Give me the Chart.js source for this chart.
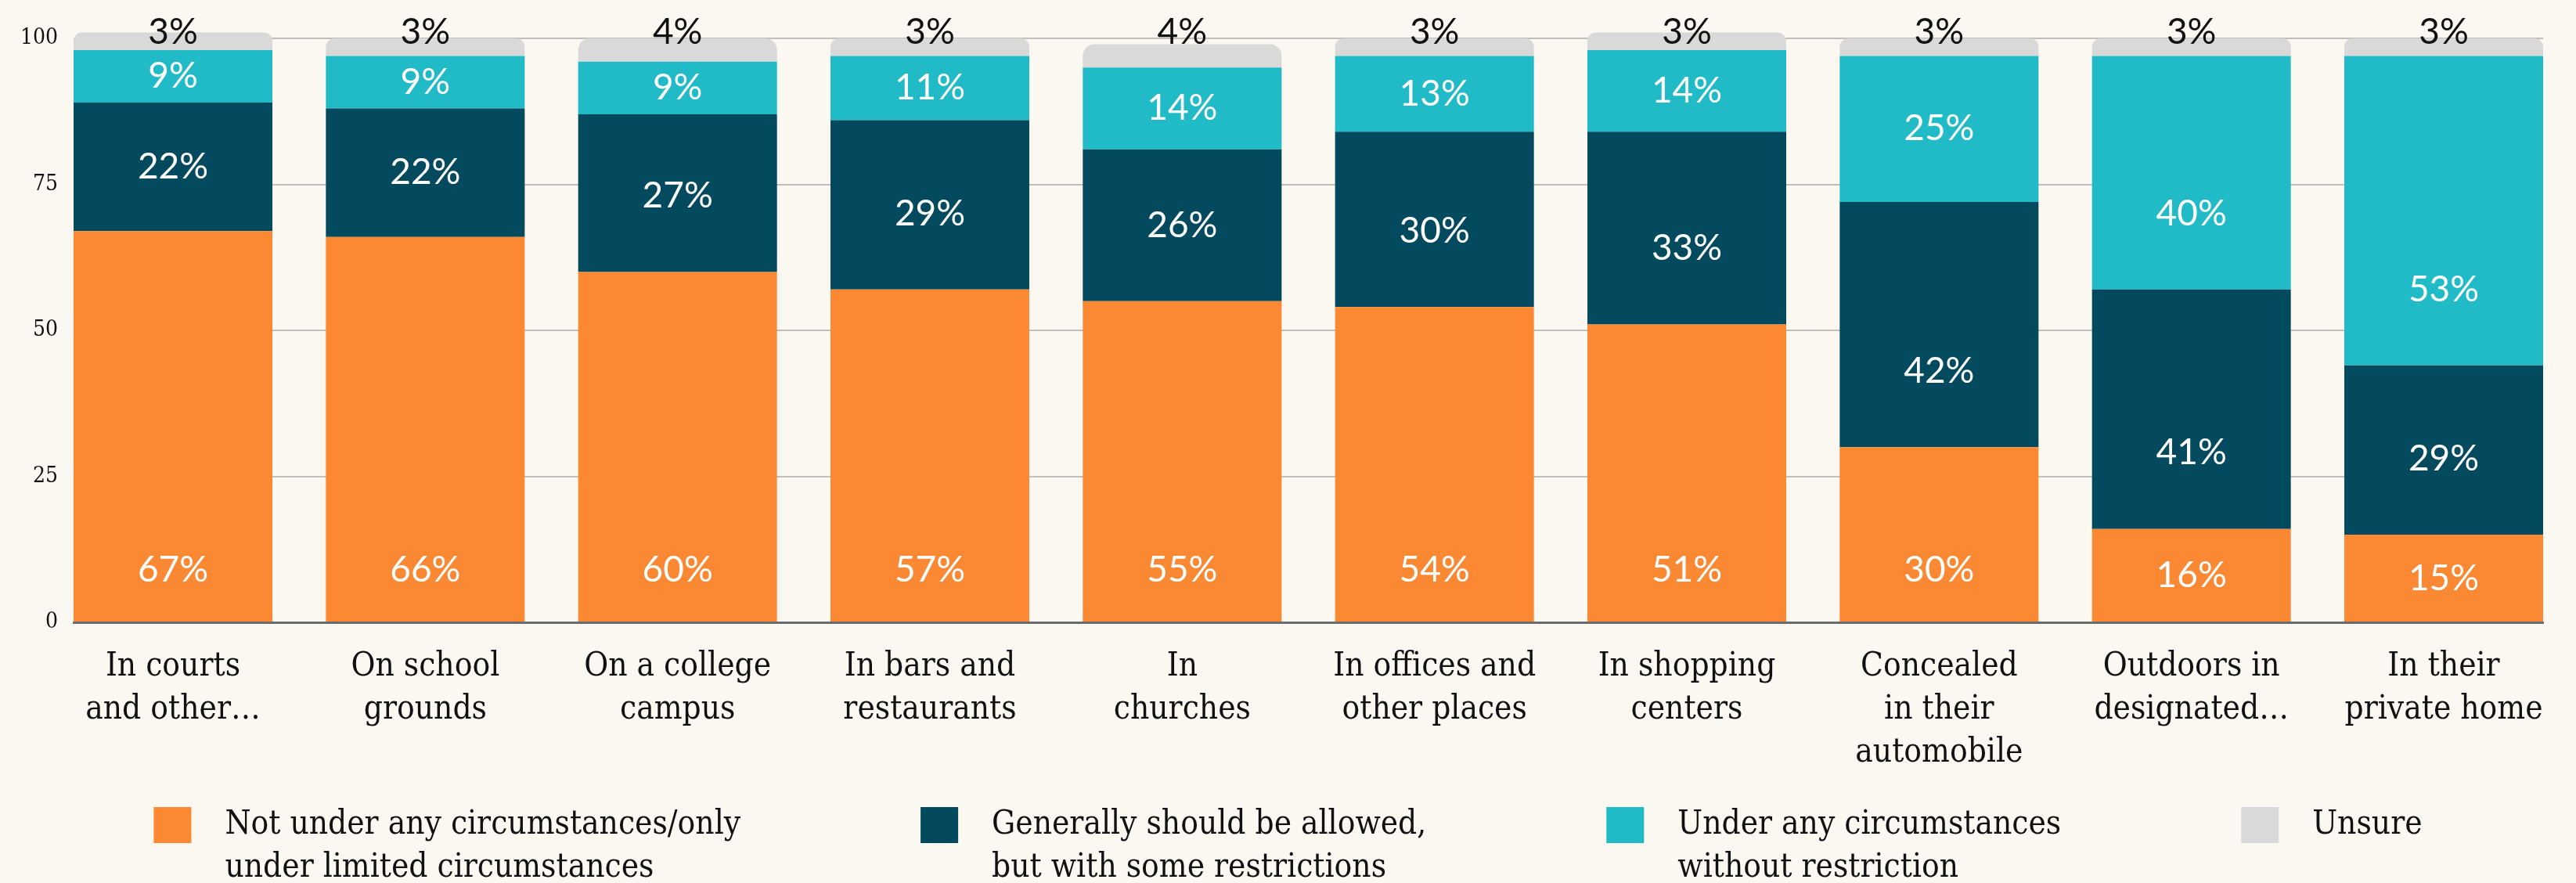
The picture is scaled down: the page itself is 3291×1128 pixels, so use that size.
<!DOCTYPE html>
<html>
<head>
<meta charset="utf-8">
<script src="https://cdn.jsdelivr.net/npm/chart.js@4.4.1/dist/chart.umd.min.js"></script>
<style>
  html, body { margin: 0; padding: 0; background: #fbf7f1; }
  #wrap { width: 3291px; height: 1128px; position: relative; }
</style>
</head>
<body>
<div id="wrap"><canvas id="placesChart"></canvas></div>
<script>
// places, wrapped the way they show under the bars
var categories = [
  ['In courts', 'and other\u2026'],
  ['On school', 'grounds'],
  ['On a college', 'campus'],
  ['In bars and', 'restaurants'],
  ['In', 'churches'],
  ['In offices and', 'other places'],
  ['In shopping', 'centers'],
  ['Concealed', 'in their', 'automobile'],
  ['Outdoors in', 'designated\u2026'],
  ['In their', 'private home']
];

var notUnderAny = [67, 66, 60, 57, 55, 54, 51, 30, 16, 15];
var generallyAllowed = [22, 22, 27, 29, 26, 30, 33, 42, 41, 29];
var underAnyCircumstances = [9, 9, 9, 11, 14, 13, 14, 25, 40, 53];
var unsure = [3, 3, 4, 3, 4, 3, 3, 3, 3, 3];

var yTicks = [0, 25, 50, 75, 100];

var seriesNames = [
  ['Not under any circumstances/only', 'under limited circumstances'],
  ['Generally should be allowed,', 'but with some restrictions'],
  ['Under any circumstances', 'without restriction'],
  ['Unsure']
];

var SERIF = '"DejaVu Serif Condensed", "Liberation Serif", serif';

function points(values) {
  return values.map(function(v, i) { return { x: i, y: v }; });
}

// percent labels inside the bars, "unsure" ones sit above the bar
var barLabels = {
  id: 'barLabels',
  afterDatasetsDraw: function(chart) {
    var ctx = chart.ctx;
    var yScale = chart.scales.y;
    var sets = chart.data.datasets;
    ctx.save();
    ctx.font = '46px Lato';
    ctx.textAlign = 'center';
    ctx.textBaseline = 'middle';
    sets.forEach(function(ds, d) {
      chart.getDatasetMeta(d).data.forEach(function(bar, i) {
        var v = ds.data[i].y;
        var start = 0;
        for (var k = 0; k < d; k++) start += sets[k].data[i].y;
        var py;
        if (d === sets.length - 1) {
          ctx.fillStyle = '#111';
          py = yScale.getPixelForValue(100) - 8;
        } else {
          ctx.fillStyle = '#ffffff';
          py = yScale.getPixelForValue(start + Math.min(v / 2, d === 0 ? 9 : 13));
        }
        ctx.fillText(v + '%', bar.x, py);
      });
    });
    ctx.restore();
  }
};

// legend row under the axis, two-line labels
var legendRow = {
  id: 'legendRow',
  afterDraw: function(chart) {
    var ctx = chart.ctx;
    var sets = chart.data.datasets;
    var box = 48, textGap = 43, gap = 230, top = 1031, lineH = 55;
    ctx.save();
    ctx.font = '42px ' + SERIF;
    var widths = seriesNames.map(function(lines) {
      var w = 0;
      lines.forEach(function(l) { w = Math.max(w, ctx.measureText(l).width); });
      return box + textGap + w;
    });
    var total = widths.reduce(function(a, b) { return a + b; }, 0) + gap * (widths.length - 1);
    var x = (chart.width - total) / 2;
    ctx.textAlign = 'left';
    ctx.textBaseline = 'alphabetic';
    seriesNames.forEach(function(lines, i) {
      ctx.fillStyle = sets[i].backgroundColor;
      ctx.fillRect(x, top, box, 46);
      ctx.fillStyle = '#111';
      lines.forEach(function(l, j) {
        ctx.fillText(l, x + box + textGap, top + 34 + j * lineH);
      });
      x += widths[i] + gap;
    });
    ctx.restore();
  }
};

var ctx = document.getElementById('placesChart').getContext('2d');
var placesChart = new Chart(ctx, {
  type: 'bar',
  data: {
    datasets: [
      { label: seriesNames[0].join(' '), data: points(notUnderAny), backgroundColor: '#fb8832' },
      { label: seriesNames[1].join(' '), data: points(generallyAllowed), backgroundColor: '#034a5f' },
      { label: seriesNames[2].join(' '), data: points(underAnyCircumstances), backgroundColor: '#21bbc8' },
      {
        label: seriesNames[3].join(' '), data: points(unsure), backgroundColor: '#d9d9d9',
        borderRadius: { topLeft: 24, topRight: 24, bottomLeft: 0, bottomRight: 0 },
        clip: false
      }
    ]
  },
  options: {
    responsive: true,
    maintainAspectRatio: false,
    animation: false,
    devicePixelRatio: 1,
    layout: { padding: { top: 49, right: 42, left: 0, bottom: 0 } },
    datasets: { bar: { barPercentage: 0.788, categoryPercentage: 1 } },
    plugins: {
      legend: { display: false },
      tooltip: { enabled: false }
    },
    scales: {
      x: {
        type: 'linear',
        stacked: true,
        offset: false,
        min: -0.394,
        max: 9.394,
        afterBuildTicks: function(s) {
          s.ticks = categories.map(function(c, i) { return { value: i }; });
        },
        afterFit: function(s) { s.height = 333; },
        grid: { display: false, drawTicks: false, offset: false },
        border: { display: true, color: '#6b6b6b', width: 3 },
        ticks: {
          padding: 30,
          color: '#111',
          autoSkip: false,
          maxRotation: 0,
          font: { family: SERIF, size: 42, lineHeight: 55 / 42 },
          callback: function(value) { return categories[value]; }
        }
      },
      y: {
        stacked: true,
        min: 0,
        max: 100,
        afterBuildTicks: function(s) {
          s.ticks = yTicks.map(function(v) { return { value: v }; });
        },
        afterFit: function(s) { s.width = 94; },
        grid: {
          color: function(c) { return c.tick && c.tick.value === 0 ? 'rgba(0,0,0,0)' : '#c2bfba'; },
          lineWidth: 2,
          drawTicks: false
        },
        border: { display: false },
        ticks: {
          padding: 20,
          color: '#111',
          font: { family: SERIF, size: 28 }
        }
      }
    }
  },
  plugins: [barLabels, legendRow]
});
</script>
</body>
</html>
